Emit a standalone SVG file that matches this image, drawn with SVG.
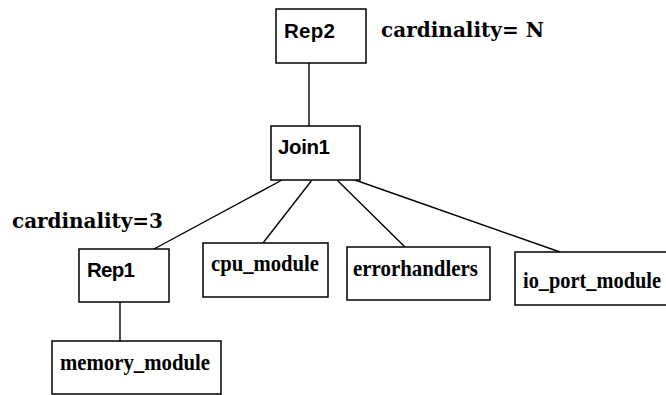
<svg xmlns="http://www.w3.org/2000/svg" width="666" height="395" viewBox="0 0 666 395">
  <style>
    .box { fill: #fff; stroke: #000; stroke-width: 1.5; }
    .edge { stroke: #000; stroke-width: 1.4; fill: none; }
    .sans { font-family: "Liberation Sans", Arial, sans-serif; font-weight: bold; font-size: 20.5px; fill: #000; }
    .serif { font-family: "Liberation Serif", "Times New Roman", serif; font-weight: bold; font-size: 23px; fill: #000; }
    .note { font-family: "DejaVu Serif", serif; font-weight: bold; font-size: 20px; fill: #000; }
  </style>

  <!-- connectors -->
  <g id="edges">
    <line class="edge" x1="309" y1="63" x2="309" y2="126"/>
    <line class="edge" x1="282" y1="180" x2="154" y2="249"/>
    <line class="edge" x1="312" y1="180" x2="263" y2="243"/>
    <line class="edge" x1="337" y1="180" x2="405" y2="247"/>
    <line class="edge" x1="355" y1="180" x2="560" y2="252"/>
    <line class="edge" x1="120" y1="302" x2="120" y2="341"/>
  </g>

  <g id="rep2">
    <rect class="box" x="276" y="9" width="90" height="54"/>
    <text class="sans" x="284" y="38" textLength="51">Rep2</text>
  </g>

  <g id="join1">
    <rect class="box" x="271" y="126" width="89" height="54"/>
    <text class="sans" x="278" y="154" textLength="52">Join1</text>
  </g>

  <g id="rep1">
    <rect class="box" x="79" y="249" width="90" height="53"/>
    <text class="sans" x="87" y="277" textLength="48">Rep1</text>
  </g>

  <g id="cpu_module">
    <rect class="box" x="203" y="243" width="125" height="54"/>
    <text class="serif" x="211" y="271" textLength="108" lengthAdjust="spacingAndGlyphs">cpu_module</text>
  </g>

  <g id="errorhandlers">
    <rect class="box" x="347" y="247" width="143" height="53"/>
    <text class="serif" x="353" y="276" textLength="125" lengthAdjust="spacingAndGlyphs">errorhandlers</text>
  </g>

  <g id="io_port_module">
    <rect class="box" x="515" y="252" width="153" height="53"/>
    <text class="serif" x="523" y="288" textLength="138" lengthAdjust="spacingAndGlyphs">io_port_module</text>
  </g>

  <g id="memory_module">
    <rect class="box" x="52" y="341" width="169" height="53"/>
    <text class="serif" x="60" y="370" textLength="150" lengthAdjust="spacingAndGlyphs">memory_module</text>
  </g>

  <!-- cardinality annotations -->
  <text class="note" x="381" y="37" textLength="163">cardinality= N</text>
  <text class="note" x="12" y="228" textLength="151">cardinality=3</text>
</svg>
